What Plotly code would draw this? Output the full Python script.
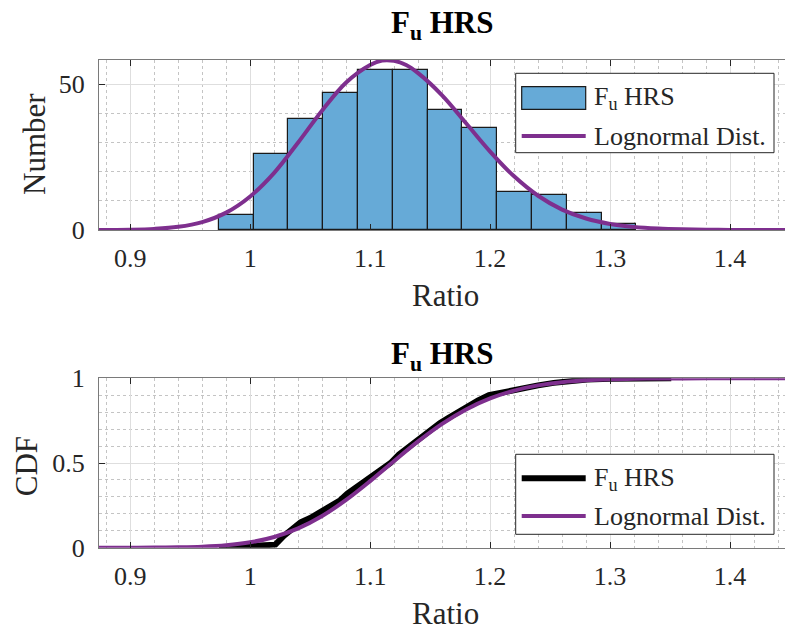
import plotly.graph_objects as go

# ---------------- data ----------------
bin_centers = [0.9884, 1.0174, 1.0464, 1.0754, 1.1044, 1.1334,
               1.1624, 1.1914, 1.2204, 1.2494, 1.2784, 1.3074]
bin_counts = [5, 26, 38, 47, 55, 55, 41, 35, 13, 12, 6, 2]
bin_width = 0.02903

pdf_x = [0.86, 0.88, 0.90, 0.92, 0.94, 0.96, 0.98, 1.00, 1.02, 1.04, 1.06, 1.08,
         1.10, 1.11, 1.12, 1.13, 1.14, 1.16, 1.18, 1.20, 1.22, 1.24, 1.26, 1.28,
         1.30, 1.32, 1.34, 1.36, 1.38, 1.40, 1.42, 1.44, 1.46]
pdf_counts = [0.005, 0.03, 0.11, 0.38, 1.08, 2.72, 5.96, 11.5, 19.6, 30.0, 41.0, 50.6,
              56.6, 58.1, 58.0, 56.6, 53.8, 46.2, 36.6, 26.9, 18.4, 11.75, 7.0, 3.94,
              2.09, 1.05, 0.50, 0.23, 0.10, 0.04, 0.015, 0.005, 0.0]

cdf_x = [0.86, 0.88, 0.90, 0.92, 0.94, 0.96, 0.98, 1.00, 1.02, 1.04, 1.06, 1.08,
         1.10, 1.12, 1.14, 1.16, 1.18, 1.20, 1.22, 1.24, 1.26, 1.28, 1.30, 1.32,
         1.34, 1.36, 1.38, 1.40, 1.42, 1.44, 1.46]
cdf_fit = [0.0, 0.0, 0.0002, 0.0006, 0.0020, 0.0057, 0.0143, 0.0318, 0.0634, 0.1143,
           0.1874, 0.2822, 0.3932, 0.5118, 0.6272, 0.7307, 0.8160, 0.8812, 0.9275,
           0.9581, 0.9771, 0.9881, 0.9941, 0.9972, 0.9988, 0.9995, 0.9998, 0.9999,
           1.0, 1.0, 1.0]

ecdf_x = [0.974, 0.99, 1.005, 1.021, 1.028, 1.035, 1.042, 1.05, 1.056, 1.063, 1.069,
          1.075, 1.081, 1.089, 1.096, 1.103, 1.11, 1.117, 1.124, 1.131, 1.138, 1.144,
          1.151, 1.158, 1.165, 1.172, 1.183, 1.19, 1.199, 1.212, 1.225, 1.24, 1.253,
          1.267, 1.281, 1.30, 1.32, 1.351]
ecdf_y = [0.0, 0.005, 0.01, 0.018, 0.07, 0.115, 0.15, 0.175, 0.2, 0.225, 0.25,
          0.28, 0.32, 0.36, 0.39, 0.42, 0.46, 0.5, 0.55, 0.59, 0.63, 0.665,
          0.70, 0.735, 0.765, 0.795, 0.84, 0.87, 0.90, 0.92, 0.94, 0.958, 0.973,
          0.985, 0.993, 0.997, 0.999, 1.0]

x_ticks = [0.9, 1.0, 1.1, 1.2, 1.3, 1.4]
x_tick_text = ["0.9", "1", "1.1", "1.2", "1.3", "1.4"]
top_y_ticks = [0, 50]
bot_y_ticks = [0, 0.5, 1]
bot_y_tick_text = ["0", "0.5", "1"]

title_text = "<b>F<sub>u</sub> HRS</b>"
series_name = "F<sub>u</sub> HRS"
fit_name = "Lognormal Dist."

# ---------------- styling ----------------
W, H = 785, 632
FONT = "Liberation Serif, Times New Roman, serif"
BAR = "#66aad7"
PURPLE = "#7e2f8e"
AXC = "#7a7a7a"


def px(x):
    return x / W


def py(y):
    return 1 - y / H


fig = go.Figure()

fig.add_trace(go.Bar(x=bin_centers, y=bin_counts, width=bin_width,
                     marker=dict(color=BAR, line=dict(color="#1a1a1a", width=1.2)),
                     name=series_name, showlegend=False, xaxis="x", yaxis="y"))
fig.add_trace(go.Scatter(x=pdf_x, y=pdf_counts, mode="lines", line_shape="spline",
                         line=dict(color=PURPLE, width=4), name=fit_name,
                         showlegend=False, xaxis="x", yaxis="y"))
fig.add_trace(go.Scatter(x=ecdf_x, y=ecdf_y, mode="lines",
                         line=dict(color="black", width=6), name=series_name,
                         showlegend=False, xaxis="x2", yaxis="y2"))
fig.add_trace(go.Scatter(x=cdf_x, y=cdf_fit, mode="lines", line_shape="spline",
                         line=dict(color=PURPLE, width=4), name=fit_name,
                         showlegend=False, xaxis="x2", yaxis="y2"))

xr = [0.874, 1.4458]
tickfont = dict(family=FONT, size=26, color="#262626")
common_x = dict(range=xr, tickvals=x_ticks, ticktext=x_tick_text, ticks="inside",
                ticklen=6, tickcolor="#262626", showline=True, linecolor=AXC,
                linewidth=1, mirror="ticks", showgrid=True, gridcolor="#dedede",
                gridwidth=1, zeroline=False, automargin=False,
                minor=dict(dtick=0.02, tick0=0.9, showgrid=True, gridcolor="#c4c4c4",
                           griddash="dot", gridwidth=1),
                tickfont=tickfont, ticklabelstandoff=5)
common_y = dict(ticks="inside", ticklen=6, tickcolor="#262626", showline=True,
                linecolor=AXC, linewidth=1, showgrid=True, gridcolor="#dedede",
                zeroline=False, automargin=False, tickfont=tickfont,
                ticklabelstandoff=8)

fig.update_layout(
    width=W, height=H, autosize=False,
    font=dict(family=FONT, size=26, color="#262626"),
    margin=dict(l=0, r=0, t=0, b=0, pad=0, autoexpand=False),
    paper_bgcolor="white", plot_bgcolor="white",
    showlegend=False, bargap=0,
    xaxis=dict(domain=[px(99), 1.0], anchor="y", **common_x),
    yaxis=dict(domain=[py(230), py(60)], anchor="x", range=[0, 58.3],
               tickvals=top_y_ticks,
               minor=dict(dtick=10, tick0=0, showgrid=True, gridcolor="#c4c4c4",
                          griddash="dot", gridwidth=1),
               **common_y),
    xaxis2=dict(domain=[px(99), 1.0], anchor="y2", **common_x),
    yaxis2=dict(domain=[py(547.7), py(378.3)], anchor="x2", range=[0, 1],
                tickvals=bot_y_ticks, ticktext=bot_y_tick_text,
                minor=dict(dtick=0.1, tick0=0, showgrid=True, gridcolor="#c4c4c4",
                           griddash="dot", gridwidth=1),
                **common_y),
)

ann = []


def text(x, y, t, size, xanchor="center", yanchor="middle", angle=0, color="#262626"):
    ann.append(dict(x=px(x), y=py(y), xref="paper", yref="paper", text=t,
                    showarrow=False, xanchor=xanchor, yanchor=yanchor,
                    textangle=angle, font=dict(family=FONT, size=size, color=color)))


# titles
text(442, 25, title_text, 31, color="black")
text(442, 356, title_text, 31, color="black")
# axis titles
text(445, 295.5, "Ratio", 31)
text(445, 613, "Ratio", 31)
text(34.5, 144.5, "Number", 31, angle=-90)
text(26.2, 466, "CDF", 31, angle=-90)

shapes = []


def rect(x0, y0, x1, y1, fill, line_color, lw):
    shapes.append(dict(type="rect", xref="paper", yref="paper",
                       x0=px(x0), x1=px(x1), y0=py(y1), y1=py(y0),
                       fillcolor=fill, line=dict(color=line_color, width=lw),
                       layer="above"))


def hline(x0, x1, y, color, lw):
    shapes.append(dict(type="line", xref="paper", yref="paper",
                       x0=px(x0), x1=px(x1), y0=py(y), y1=py(y),
                       line=dict(color=color, width=lw), layer="above"))


# legend top
rect(515.7, 73.3, 774, 152.7, "white", "#262626", 1)
rect(521.7, 86.7, 585.7, 109.3, BAR, "#1a1a1a", 1.2)
hline(521.7, 585.7, 136, PURPLE, 4)
text(591.7, 98, series_name, 26, xanchor="left")
text(591.7, 136.5, fit_name, 26, xanchor="left")
# legend bottom
rect(515.7, 454.3, 774, 534.3, "white", "#262626", 1)
hline(521.7, 585.7, 478.3, "black", 6)
hline(521.7, 585.7, 516, PURPLE, 4)
text(591.7, 478.5, series_name, 26, xanchor="left")
text(591.7, 516.5, fit_name, 26, xanchor="left")

fig.update_layout(annotations=ann, shapes=shapes)

fig.write_html("out.html")
